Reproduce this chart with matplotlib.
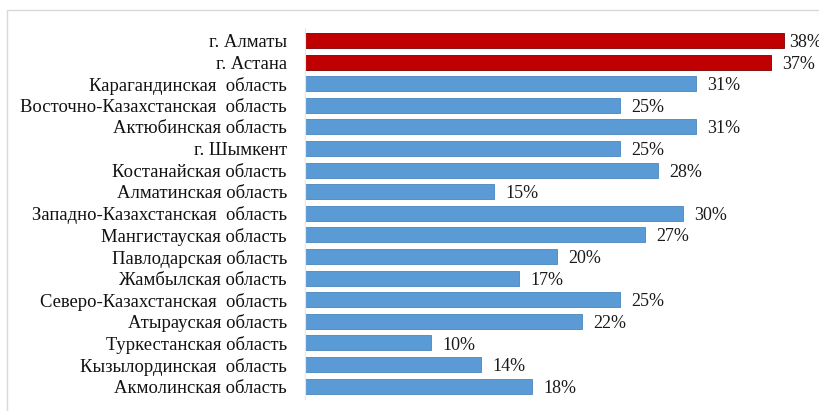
import matplotlib.pyplot as plt
import matplotlib.patches as mpatches

# Share of each region, percent
regions = [
    "г. Алматы",
    "г. Астана",
    "Карагандинская  область",
    "Восточно-Казахстанская  область",
    "Актюбинская область",
    "г. Шымкент",
    "Костанайская область",
    "Алматинская область",
    "Западно-Казахстанская  область",
    "Мангистауская область",
    "Павлодарская область",
    "Жамбылская область",
    "Северо-Казахстанская  область",
    "Атырауская область",
    "Туркестанская область",
    "Кызылординская  область",
    "Акмолинская область",
]
values = [38, 37, 31, 25, 31, 25, 28, 15, 30, 27, 20, 17, 25, 22, 10, 14, 18]
highlight = ["г. Алматы", "г. Астана"]

plt.rcParams["font.family"] = ["Liberation Serif", "DejaVu Serif"]

fig = plt.figure(figsize=(8.19, 4.11), dpi=100)
ax = fig.add_axes([305 / 819, 0.029, 504 / 819, 0.904])

colors = ["#c00000" if r in highlight else "#5b9bd5" for r in regions]
edges = ["#7a0000" if r in highlight else "#4a86bd" for r in regions]
y = list(range(len(regions)))
ax.barh(y, values, height=0.7, color=colors, edgecolor=edges, linewidth=0.6)

for yi, v in zip(y, values):
    # the longest bar sits at the right edge, so its label hugs the bar
    dx = 4 if v == max(values) else 8
    ax.annotate(f"{v}%", (v, yi), xytext=(dx, -1.5), textcoords="offset points",
                va="center", ha="left", fontsize=13, color="#1a1a1a",
                annotation_clip=False)

ax.set_yticks(y)
ax.set_yticklabels(regions, fontsize=13.4, color="#111111")
ax.set_xlim(0, 40)
ax.set_ylim(16.6, -0.6)
ax.tick_params(axis="y", length=0, pad=13)
ax.set_xticks([])
for side in ["top", "right", "bottom"]:
    ax.spines[side].set_visible(False)
ax.spines["left"].set_color("#e6e6e6")
ax.spines["left"].set_linewidth(0.8)

# light frame around the chart area
frame = mpatches.Rectangle((7 / 819, -0.1), 1.2, 1.1 - 10 / 411,
                           transform=fig.transFigure, fill=False,
                           edgecolor="#d9d9d9", linewidth=1.0)
fig.patches.append(frame)

fig.savefig("out.png", dpi=100)
